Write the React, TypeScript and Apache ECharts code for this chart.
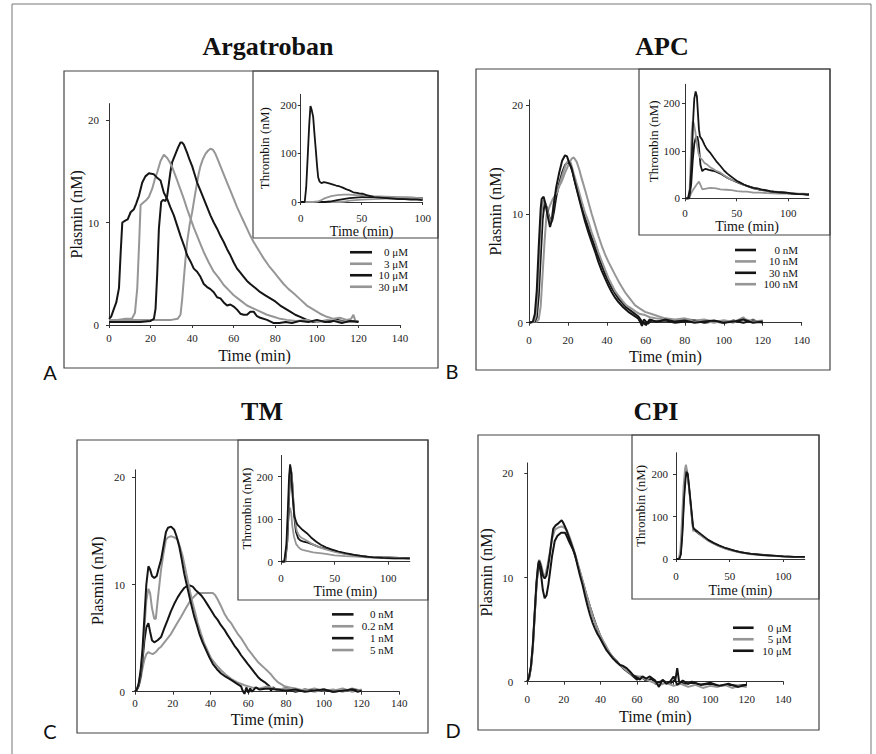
import React, { useEffect, useRef } from 'react';
import * as echarts from 'echarts';

// ---------------- DATA ----------------
const panelTitles = ['Argatroban', 'APC', 'TM', 'CPI'];
const panelLetters = ['A', 'B', 'C', 'D'];
const mainXTicks = [0, 20, 40, 60, 80, 100, 120, 140];
const mainYTicks = [0, 10, 20];
const insetXTicks = [0, 50, 100];
const insetYTicks = [0, 100, 200];
const mainXName = 'Time (min)';
const mainYName = 'Plasmin (nM)';
const insetXName = 'Time (min)';
const insetYName = 'Thrombin (nM)';

const argLabels = ['0 μM', '3 μM', '10 μM', '30 μM'];
const apcLabels = ['0 nM', '10 nM', '30 nM', '100 nM'];
const tmLabels = ['0 nM', '0.2 nM', '1 nM', '5 nM'];
const cpiLabels = ['0 μM', '5 μM', '10 μM'];

// Argatroban – plasmin
const argP0 = [[0,0.6],[1,0.8],[2.4,1.6],[3.5,2.2],[4.8,3.6],[5.6,7],[6.4,10.0],[8,10.2],[9,10.3],[10.4,11],[12,11.3],[13,11.8],[14.4,12.6],[16,13.9],[17.5,14.5],[19.2,14.8],[21.6,14.7],[23,14.4],[24.8,14.1],[26.4,12.9],[28,12.3],[29.5,11.5],[31.2,10.7],[32.8,9.7],[34.4,8.7],[36,7.8],[37.6,6.8],[39.2,6.2],[40.8,5.5],[42.4,5.2],[44,4.7],[45.6,4.0],[47.2,3.7],[48.8,3.5],[50.4,3.2],[52,2.7],[53.6,2.6],[55.2,2.2],[56.8,1.9],[58.4,2.0],[60,1.8],[61.6,1.5],[63.2,1.1],[64.8,1.0],[66.4,1.0],[68,1.3],[69.6,1.3],[71,0.9],[72.8,0.7],[76,0.5],[79,0.2],[82,0.2],[85,0.3],[88,0.2],[92,0.4],[96,0.3],[100,0.5],[104,0.3],[108,0.4],[112,0.2],[116,0.4],[120,0.3]];
const argP3 = [[0,0.5],[4,0.5],[8,0.6],[11,0.6],[12.5,1.2],[13.6,3.6],[14.5,8],[15.2,11.7],[16.8,12.0],[18,12.2],[19.2,12.5],[20.8,13.3],[22,14.2],[23.2,14.9],[24.8,16.0],[26.4,16.6],[28,16.3],[29.2,15.9],[30.4,15.4],[32.8,14.1],[34.4,13.2],[36,12.3],[37.6,11.3],[39.2,10.4],[40.8,9.5],[42.4,8.7],[44,7.9],[45.6,7.1],[48,6.1],[50.4,5.2],[52.8,4.6],[55.2,3.9],[57.6,3.4],[60,2.9],[63.2,2.4],[66.4,1.9],[69.6,1.6],[72.8,1.3],[76,1.0],[79.2,0.8],[82.4,0.6],[85.6,0.5],[90,0.4],[95,0.5],[100,0.3],[105,0.5],[110,0.4],[115,0.3],[120,0.4]];
const argP10 = [[0,0.3],[5,0.3],[10,0.3],[15,0.3],[20,0.4],[21.6,0.6],[22.4,1.6],[23.2,5],[24,9.4],[25.1,12.0],[26,12.2],[27.2,12.1],[28,12.6],[28.8,13.8],[29.6,15],[30.4,15.9],[32,16.7],[33.2,17.3],[34.4,17.8],[35.2,17.8],[36,17.6],[37.6,16.8],[38.8,16.1],[40,15.5],[41.2,14.7],[42.4,13.9],[44,13.1],[45.6,12.3],[47.2,11.5],[48.8,10.7],[50.4,10.0],[52,9.4],[53.6,8.7],[55.2,8.1],[56.8,7.4],[58.4,6.8],[60,6.1],[61.6,5.5],[63.2,5.1],[64.8,4.7],[66.4,4.3],[68,4.0],[70.4,3.6],[72.8,3.2],[75.2,2.9],[77.6,2.6],[80,2.3],[82.4,1.9],[84.8,1.6],[87.2,1.3],[89.6,1.0],[92,0.8],[95.2,0.5],[98.4,0.3],[102,0.4],[106,0.3],[110,0.5],[114,0.3],[118,0.4],[120,0.3]];
const argP30 = [[0,0.5],[5,0.5],[10,0.5],[15,0.5],[20,0.5],[25,0.5],[30,0.5],[33,0.6],[34.4,1.0],[35.2,2.5],[36,4.5],[36.8,6.4],[37.6,8.1],[38.8,9.8],[40,11.0],[41.2,12.5],[42.4,13.9],[43.2,14.8],[44,15.5],[45.2,16.2],[46.4,16.7],[47.6,17.0],[48.8,17.2],[50,17.1],[51.2,16.7],[52.4,16.1],[53.6,15.5],[55.2,14.7],[56.8,13.9],[58.4,13.1],[60,12.3],[61.6,11.5],[63.2,10.8],[64.8,10.1],[66.4,9.4],[68,8.7],[69.6,8.1],[72,7.3],[74.4,6.5],[76.8,5.8],[79.2,5.2],[81.6,4.6],[84,4.0],[86.4,3.5],[88.8,3.1],[92,2.5],[95.2,1.9],[98.4,1.5],[101.6,1.1],[104.8,0.8],[108,0.6],[111,0.7],[114.4,0.5],[116.5,0.6],[117.6,1.0],[118.5,0.4],[120,0.4]];
// Argatroban – thrombin
const argT0 = [[0,0],[3.3,0],[4.5,30],[6,107],[7,160],[8,198],[9,190],[10.2,176],[11.3,140],[12.4,107],[13.4,75],[14.3,51],[15.5,42],[17,39],[19,41],[21,40],[24,38],[26.6,36],[29,34],[32,32],[34,30],[37.6,26],[40,24],[43,20],[46,19],[48,18],[51,17],[54,14],[57,12],[60,10],[65,9],[70,8],[75,7],[80,6],[85,6],[90,5],[95,5],[100,4]];
const argT3 = [[0,0],[10,0],[14,1],[17,4],[20,8],[25,12],[30,14],[35,15],[40,15],[45,14],[50,14],[55,13],[60,12],[70,11],[80,10],[90,9],[100,8]];
const argT10 = [[0,0],[20,0],[24,1],[30,4],[35,6],[40,8],[45,9],[50,10],[60,10],[70,10],[80,9],[90,9],[100,8]];
const argT30 = [[0,0],[33,0],[36,1],[40,3],[45,4],[50,5],[60,6],[70,7],[80,7],[90,7],[100,6]];

// APC – plasmin
const apcP0 = [[0,0],[2,0.1],[3,0.8],[4,3],[5,7],[6,10.5],[6.5,11.4],[7.5,11.6],[8.5,10.9],[9.5,9.9],[10.8,8.8],[11.8,9.5],[12.8,11],[14,12.5],[15.5,13.8],[17,14.9],[18.5,15.4],[19.5,15.3],[20.5,14.8],[21.9,14.2],[23.5,13.0],[25.3,11.7],[27,10.5],[28.8,9.3],[30.5,8.3],[32.2,7.4],[34,6.5],[35.6,5.6],[37.3,4.8],[39,4.1],[40.8,3.4],[42.5,2.8],[44.2,2.3],[45.9,1.9],[48.5,1.4],[51,1.0],[53.5,0.7],[56,0.4],[57,0.1],[58,-0.3],[59,0.3],[61,-0.1],[63,0.2],[66,0.1],[70,0.3],[75,0.1],[80,0.2],[85,0.0],[90,0.1],[95,0.2],[100,0.0],[105,0.1],[110,0.3],[115,0.0],[120,0.1]];
const apcP10 = [[0,0],[2.5,0.1],[3.5,0.6],[4.5,3],[5.5,7],[6.5,10.3],[7.4,11.3],[8.4,11.0],[9.5,10.2],[10.5,9.5],[11.6,9.3],[12.5,10.8],[13.4,11.7],[14.5,12.0],[16,12.9],[17.5,13.8],[19,14.6],[20.2,14.9],[21.5,14.7],[23,13.7],[25.3,12.3],[27,11.2],[28.8,10.1],[30.5,9.3],[32,8.4],[34,7.4],[35.6,6.5],[37.3,5.7],[39,4.9],[40.8,4.1],[42.5,3.5],[44.2,2.9],[45.9,2.5],[48,2.0],[50,1.6],[52.7,1.3],[55,1.0],[57,0.8],[59.6,0.7],[62,0.5],[65,0.4],[70,0.3],[75,0.2],[80,0.3],[85,0.1],[90,0.2],[95,0.0],[100,0.2],[105,0.1],[110,0.4],[115,0.1],[120,0.2]];
const apcP30 = [[0,0],[3,0.1],[4,0.5],[5,2.5],[6,6],[7,9.5],[8,11.0],[9,10.7],[10,10.0],[11,9.4],[11.8,9.3],[12.8,10.2],[14,11.6],[15.5,12.8],[17,13.8],[18.5,14.5],[20,14.8],[21,14.6],[22.5,13.8],[24,12.7],[25.5,11.7],[27,10.7],[28.8,9.6],[30.5,8.7],[32.2,7.8],[34,6.9],[35.6,6.1],[37.3,5.3],[39,4.5],[40.8,3.8],[42.5,3.2],[44.2,2.7],[46,2.2],[48,1.8],[50,1.4],[53,1.0],[56,0.6],[58,0.1],[60,-0.2],[62,0.3],[65,0.1],[70,0.2],[75,0.0],[80,0.1],[85,0.2],[90,0.0],[95,0.1],[100,0.0],[105,0.2],[110,0.0],[115,0.2],[120,0.0]];
const apcP100 = [[0,0],[4,0.1],[5,0.3],[6,1.5],[7,4.5],[8,7.5],[9,9.9],[10,10.4],[10.8,10.8],[12,11.3],[13.4,11.7],[15,12.4],[16.8,13.0],[18.5,13.8],[20.2,14.5],[21.9,15.1],[23,15.2],[24.5,14.8],[25.8,14.1],[27,13.3],[28.8,12.2],[30.5,11.1],[32.2,10.0],[33.9,9.0],[35.6,8.0],[37.3,7.1],[39,6.3],[40.8,5.6],[42.5,5.0],[44.2,4.4],[46,3.8],[47.6,3.3],[49.3,2.8],[51,2.4],[52.7,2.0],[54.5,1.6],[57,1.3],[59.6,1.0],[63,0.8],[66.4,0.6],[70,0.4],[75,0.3],[80,0.4],[85,0.2],[90,0.3],[95,0.1],[100,0.2],[105,0.0],[108,0.3],[110,0.5],[112,0.1],[115,0.3],[118,0.0],[120,0.2]];
// APC – thrombin
const apcT0 = [[0,0],[3,0],[5,20],[6.5,80],[8,170],[9,210],[10.3,225],[11.5,215],[12.5,180],[13.5,145],[14.5,130],[16.7,123],[19,112],[21,104],[24.7,95],[28,85],[31,76],[34.3,68],[38,58],[41,52],[43.9,47],[47,42],[50,37],[53.5,33],[57,29],[60,26],[63,24],[66.3,22],[70,21],[75,18],[78,17],[82.4,15],[86,14],[90,13],[94,13],[98.4,12],[102,11],[106,10],[110,9],[114,9],[117.6,8],[120,8]];
const apcT10 = [[0,0],[3,0],[4.5,20],[5.5,80],[6.5,140],[7.5,162],[8.5,158],[10,140],[11.5,115],[13,95],[14.5,86],[16.7,81],[19,74],[21.5,71],[24,66],[27,62],[30,58],[34.3,54],[38,48],[42,42],[46,38],[50.3,35],[55,30],[60,26],[66.3,22],[72,19],[76,17],[82.4,15],[88,14],[93,13],[98.4,12],[104,11],[110,10],[115,10],[120,9]];
const apcT30 = [[0,0],[4,0],[6,30],[7.5,80],[9,115],[10.5,128],[11.9,130],[13,118],[14,95],[15,70],[16.7,57],[18,60],[20,62],[23,60],[27,58],[30,56],[34.3,52],[38,47],[42,42],[46,38],[50.3,34],[55,30],[60,26],[66.3,21],[72,18],[78,16],[82.4,14],[88,13],[93,12],[98.4,11],[104,10],[110,9],[115,9],[120,8]];
const apcT100 = [[0,0],[4,0],[5.4,8],[7,15],[8.5,20],[10.3,26],[12,31],[13.5,35],[15,28],[16.7,19],[19,20],[21.5,21],[25,22],[30,21],[34.3,19],[40,18],[45,17],[50.3,15],[56,14],[60,14],[66.3,12],[72,12],[80,11],[90,10],[98.4,10],[105,9],[110,9],[117.6,8],[120,8]];

// TM – plasmin
const tmP0 = [[0,0],[1,0.2],[2,0.8],[3,2],[4,4],[5,7],[6,10],[7.1,11.7],[8,11.4],[9,10.8],[10.2,10.6],[11.5,10.8],[12.5,11.5],[13.8,12.3],[15,13.5],[16.4,14.9],[17.5,15.3],[19.1,15.4],[20.8,15.1],[22,14.5],[23.5,13.5],[24.8,12.3],[26.1,11.0],[27.5,9.9],[28.8,8.9],[30,8.0],[31.4,7.0],[32.8,6.2],[34.1,5.4],[35.8,4.6],[37.6,3.9],[39.4,3.2],[41.2,2.6],[43.4,2.1],[45.6,1.7],[48,1.4],[50.9,1.1],[53.5,0.8],[56.2,0.5],[57,0.1],[58,-0.2],[59,0.4],[60,-0.1],[61,0.3],[62,0.0],[64,0.4],[66,0.2],[70,0.3],[75,0.2],[80,0.1],[85,0.2],[90,0.0],[95,0.1],[100,0.2],[105,0.0],[110,0.1],[115,0.2],[118,0.0],[120,0.1]];
const tmP02 = [[0,0],[1,0.2],[2,0.7],[3,1.8],[4,3.5],[5,6],[6,8.5],[7.1,9.6],[8,9.2],[9,7.8],[10.2,6.8],[11,6.8],[12,8.5],[13.8,11.4],[15,12.8],[16.4,14.2],[17.5,14.4],[19.1,14.5],[20.8,14.4],[22.6,14.2],[24,13.4],[25.3,12.6],[26.6,11.5],[27.9,10.4],[29.2,9.3],[30.6,8.2],[32,7.3],[33.2,6.4],[35,5.4],[36.7,4.5],[38.5,3.8],[40.3,3.1],[43,2.5],[45.6,2.0],[48,1.6],[50.9,1.2],[54,0.9],[58,0.6],[62,0.4],[66,0.3],[70,0.5],[75,0.2],[80,0.3],[85,0.1],[90,0.2],[95,0.0],[100,0.2],[105,0.1],[110,0.3],[115,0.0],[120,0.2]];
const tmP1 = [[0,0],[1,0.2],[2,0.6],[3,1.5],[4,3],[5,4.8],[6,6],[7.1,6.4],[8,5.6],[9,4.8],[10.2,4.6],[12,4.8],[13.8,5.1],[15.5,5.9],[17.3,6.7],[19,7.5],[20.8,8.2],[22.6,8.8],[24.4,9.3],[26.2,9.7],[27.9,9.9],[29.2,9.9],[30.6,9.8],[32,9.5],[33.2,9.3],[35,9.0],[36.7,8.6],[38.5,8.1],[40.3,7.6],[42,7.1],[43.8,6.7],[45.5,6.2],[47.3,5.8],[49,5.3],[50.9,4.8],[52.6,4.3],[54.4,3.9],[56.2,3.4],[58,3.0],[59.7,2.6],[61.5,2.2],[63.2,1.8],[65,1.4],[66.8,1.1],[68.6,0.9],[70,0.7],[71.2,0.5],[72,0.1],[73,0.4],[75,0.2],[80,0.3],[85,0.0],[90,0.2],[95,0.1],[100,0.2],[105,0.0],[110,0.1],[115,0.2],[120,0.1]];
const tmP5 = [[0,0],[1,0.2],[2,0.5],[3,1.2],[4,2.2],[5,3.0],[6,3.5],[7.1,3.7],[8,3.6],[9.4,3.5],[11,3.7],[12.4,4.0],[13.8,4.2],[16,4.7],[19.1,5.4],[21.7,6.2],[24.4,7.0],[27,7.8],[29.7,8.6],[31.5,8.9],[33.2,9.2],[35.8,9.2],[38.5,9.2],[41.2,9.2],[42.5,9.0],[43.8,8.6],[45.5,8.0],[47.3,7.3],[49,6.8],[50.9,6.4],[52.6,5.9],[54.4,5.4],[56.2,5.0],[58,4.5],[59.7,4.0],[61.5,3.6],[63.2,3.2],[65,2.8],[66.8,2.5],[68.6,2.2],[70.4,1.9],[72.1,1.6],[73.9,1.2],[75.6,0.9],[77.4,0.7],[79.2,0.5],[82,0.4],[85,0.3],[90,0.1],[95,0.3],[100,0.1],[105,0.2],[110,0.0],[115,0.3],[120,0.1]];
// TM – thrombin
const tmT0 = [[0,0],[3,0],[5,40],[6.5,130],[7.5,200],[8.5,229],[9.5,210],[10.5,165],[12.4,107],[14,95],[15.3,87],[18,80],[20,75],[24.1,67],[28,57],[32.9,47],[37,40],[41.8,34],[47,29],[53.5,24],[60,20],[68.2,16],[76,13],[85.9,10],[95,9],[105,8],[112,8],[120,8]];
const tmT02 = [[0,0],[3.5,0],[5.5,40],[7,140],[8.2,200],[9.2,222],[10.2,200],[11.5,140],[13,100],[14.5,75],[16,65],[18,58],[20,55],[25,48],[30,40],[35,35],[40,30],[50,23],[60,18],[70,14],[80,12],[90,11],[100,10],[110,9],[120,8]];
const tmT1 = [[0,0],[4,0],[6,50],[7.5,150],[8.7,205],[9.7,210],[10.7,180],[12,120],[13,90],[14,70],[16,55],[18,50],[21,47],[25,45],[30,40],[35,35],[42,30],[50,25],[60,19],[70,15],[80,12],[90,11],[100,10],[110,9],[120,8]];
const tmT5 = [[0,0],[3,0],[5,30],[6.5,90],[7.8,120],[8.5,127],[9.5,115],[10.5,85],[12,60],[14,42],[16,35],[18,30],[20,28],[25,25],[30,22],[40,19],[50,15],[60,13],[70,12],[80,10],[90,9],[100,8],[110,8],[120,7]];

// CPI – plasmin
const cpiP0 = [[0,0],[1,0.5],[2,1.5],[3,3.5],[4,6.5],[5,9.5],[6,11.3],[6.5,11.6],[7.5,11.0],[8.5,10.2],[9.5,9.9],[10.5,10.2],[11.5,11.2],[12.4,12.3],[13.3,13.6],[14.2,14.7],[15.5,15.0],[17,15.2],[18.8,15.5],[19.5,15.3],[20.6,14.9],[21.9,14.3],[23.3,13.6],[24.7,12.9],[26.1,12.2],[27.4,11.2],[28.8,10.2],[30.2,9.3],[31.5,8.3],[32.9,7.3],[34.3,6.4],[35.6,5.7],[37,5.1],[38.3,4.6],[39.7,4.2],[41.5,3.6],[43.4,3.0],[45.2,2.6],[47,2.2],[48.8,1.9],[50.7,1.6],[52.5,1.5],[54.3,1.3],[56,1.0],[58,0.6],[60,0.4],[61.6,0.2],[63,0.5],[65,0.3],[67,0.5],[70,0.1],[72,-0.5],[74,0.2],[76,-0.2],[78,0.0],[80,0.5],[82,-0.3],[85,0.1],[88,-0.2],[90,0.0],[95,-0.3],[100,-0.1],[105,-0.4],[110,-0.2],[115,-0.5],[120,-0.3]];
const cpiP5 = [[0,0],[1,0.4],[2,1.3],[3,3.2],[4,6.2],[5,9.3],[6,11.4],[6.5,11.7],[7.5,11.3],[8.5,10.5],[9.1,10.2],[10,10.3],[11,11.1],[12.4,12.5],[13.7,13.8],[15.1,14.6],[17,14.8],[18.8,14.9],[20,14.8],[21.5,14.6],[23.3,13.8],[25.2,12.8],[27,11.7],[28.8,10.6],[30.6,9.5],[32.4,8.3],[34.3,7.2],[36.1,6.1],[37.9,5.3],[39.7,4.5],[41.5,3.9],[43.4,3.3],[45.2,2.7],[47,2.3],[48.8,1.9],[50.7,1.6],[54,1.1],[58,0.6],[61,0.5],[65,0.2],[68,0.0],[72.5,-0.3],[76,-0.1],[80,-0.4],[84,-0.2],[88,-0.5],[92,-0.3],[96,-0.6],[100,-0.4],[104,-0.5],[108,-0.3],[112,-0.6],[116,-0.4],[120,-0.5]];
const cpiP10 = [[0,0],[1,0.4],[2,1.4],[3,3.3],[4,6.3],[5,9.2],[6,11.1],[6.5,11.3],[7.5,10.3],[8.5,8.8],[9.5,8.0],[10.5,8.3],[11.5,9.3],[12.4,10.5],[13.5,12.0],[15,13.5],[16.5,14.0],[18.5,14.3],[19.5,14.3],[20.6,14.3],[21.5,14.0],[22.5,13.6],[23.5,13.2],[25.2,12.6],[27,11.6],[28.8,10.5],[30.6,9.4],[32.4,8.3],[34.3,7.2],[36.1,6.2],[37.9,5.3],[39.7,4.5],[41.5,3.8],[43.4,3.2],[45.2,2.7],[47,2.3],[48.8,2.0],[50.7,1.6],[53,1.2],[56,0.8],[58,0.5],[60,0.2],[62,0.5],[65,0.1],[68,0.3],[70,-0.2],[74,0.1],[78,-0.2],[81,0.2],[82,1.3],[83,0.0],[86,-0.2],[90,-0.1],[95,-0.3],[100,-0.2],[105,-0.4],[110,-0.3],[115,-0.4],[120,-0.3]];
// CPI – thrombin
const cpiT0 = [[0,0],[3,0],[4.5,10],[6,60],[7.5,140],[9,190],[10,205],[11,200],[12,175],[13,150],[14,125],[15,100],[16,75],[17,70],[20,65],[25,55],[30,45],[35,38],[40,32],[45,27],[50,23],[55,19],[60,16],[65,14],[70,12],[75,11],[80,9],[90,8],[100,6],[110,5],[120,5]];
const cpiT5 = [[0,0],[2.5,0],[4,20],[5.5,90],[7,170],[8.5,215],[9.3,222],[10.5,205],[12,170],[13.5,130],[15,95],[16,65],[17,72],[20,63],[25,52],[30,43],[35,36],[40,30],[45,25],[50,21],[55,18],[60,15],[65,13],[70,11],[80,9],[90,7],[100,6],[110,5],[120,4]];
const cpiT10 = [[0,0],[3,0],[4.5,15],[6,75],[7.5,155],[8.8,200],[9.8,210],[11,195],[12.5,160],[14,120],[15,90],[16,70],[17,68],[20,62],[25,53],[30,44],[35,37],[40,31],[45,26],[50,22],[55,19],[60,16],[70,12],[80,10],[90,8],[100,6],[110,5],[120,5]];

// ---------------- STYLE / LAYOUT ----------------
const SERIF = 'Liberation Serif';
const SANS = 'Lato';
const BLACK = '#151515';
const GRAY = '#969696';
const AXIS = '#333';

const layouts = [
  {
    main: { left: 109, top: 103.6, width: 291, height: 221.4, yMax: 21.6, yLM: 10, xLM: 7.5, yNG: 23, xNG: 22 },
    inset: { left: 300.7, top: 94.3, width: 122, height: 107.7, yMax: 222, xMax: 100, yLM: 4, xLM: 10.5, yNG: 30, xNG: 22.7 },
    box: [64, 71, 374, 297], ibox: [253, 71, 185, 167], title: [268, 46], letter: [50, 372],
    legend: { left: 350, top: 246.5, tw: 31, lh: 11.5, iw: 22 },
  },
  {
    main: { left: 529, top: 99.9, width: 272.7, height: 222.8, yMax: 20.5, yLM: 6, xLM: 11.8, yNG: 26, xNG: 26 },
    inset: { left: 685, top: 84.3, width: 124, height: 114, yMax: 240, xMax: 120, yLM: 5, xLM: 9.2, yNG: 25.5, xNG: 21.4 },
    box: [476, 69, 354, 301], ibox: [639, 69, 191, 166], title: [662, 46], letter: [452, 371],
    legend: { left: 735, top: 244.3, tw: 37, lh: 11.4, iw: 21 },
  },
  {
    main: { left: 135, top: 469.8, width: 264.3, height: 221.9, yMax: 20.7, yLM: 10, xLM: 5.8, yNG: 30, xNG: 20 },
    inset: { left: 281, top: 455.45, width: 128.8, height: 106.25, yMax: 250, xMax: 120, yLM: 8, xLM: 10.8, yNG: 26, xNG: 23 },
    box: [77, 440, 351, 293], ibox: [238, 440, 190, 160], title: [262, 411], letter: [50, 731],
    legend: { left: 332, top: 608.4, tw: 35, lh: 11.9, iw: 21.5 },
  },
  {
    main: { left: 527.3, top: 462.9, width: 256, height: 218.8, yMax: 21, yLM: 14, xLM: 12, yNG: 32.6, xNG: 27 },
    inset: { left: 676, top: 452.75, width: 128.8, height: 106.25, yMax: 250, xMax: 120, yLM: 8, xLM: 11.2, yNG: 29.5, xNG: 24.7 },
    box: [478, 435, 341, 295], ibox: [632, 435, 187, 164], title: [656, 411], letter: [453, 730],
    legend: { left: 733, top: 622, tw: 33, lh: 11.5, iw: 20.6 },
  },
];

const panels = [
  { labels: argLabels, main: [argP0, argP3, argP10, argP30], inset: [argT0, argT3, argT10, argT30] },
  { labels: apcLabels, main: [apcP0, apcP10, apcP30, apcP100], inset: [apcT0, apcT10, apcT30, apcT100] },
  { labels: tmLabels, main: [tmP0, tmP02, tmP1, tmP5], inset: [tmT0, tmT02, tmT1, tmT5] },
  { labels: cpiLabels, main: [cpiP0, cpiP5, cpiP10], inset: [cpiT0, cpiT5, cpiT10] },
];

function buildOption() {
  const grid: any[] = [];
  const xAxis: any[] = [];
  const yAxis: any[] = [];
  const series: any[] = [];
  const legend: any[] = [];
  const elements: any[] = [];

  elements.push({
    type: 'polyline', silent: true,
    shape: { points: [[12, 760], [12, 4], [871, 4], [871, 760]] },
    style: { stroke: '#777', lineWidth: 1, fill: null },
  });

  panels.forEach((p, pi) => {
    const L = layouts[pi];
    const title = panelTitles[pi];
    const gi = pi * 2;

    [L.main, L.inset].forEach((g: any, k) => {
      const isInset = k === 1;
      grid.push({ left: g.left, top: g.top, width: g.width, height: g.height, containLabel: false });
      const xt = isInset ? insetXTicks : mainXTicks;
      const yt = isInset ? insetYTicks : mainYTicks;
      xAxis.push({
        type: 'value', gridIndex: gi + k, min: 0, max: isInset ? g.xMax : 140,
        axisLine: { show: true, onZero: false, lineStyle: { color: AXIS, width: 1 } },
        axisTick: { show: true, length: 3, customValues: xt, lineStyle: { color: AXIS } },
        axisLabel: { customValues: xt, fontFamily: SERIF, fontSize: 11, color: '#222', margin: g.xLM },
        splitLine: { show: false },
        name: isInset ? insetXName : mainXName, nameLocation: 'middle', nameGap: g.xNG,
        nameTextStyle: { fontFamily: SERIF, fontWeight: 'normal', fontSize: isInset ? 14 : 16, color: '#111' },
      });
      yAxis.push({
        type: 'value', gridIndex: gi + k, min: 0, max: g.yMax,
        axisLine: { show: true, lineStyle: { color: AXIS, width: 1 } },
        axisTick: { show: true, length: 3, customValues: yt, lineStyle: { color: AXIS } },
        axisLabel: { customValues: yt, fontFamily: SERIF, fontSize: 11, color: '#222', margin: g.yLM },
        splitLine: { show: false },
        name: isInset ? insetYName : mainYName, nameLocation: 'middle', nameGap: g.yNG,
        nameTextStyle: { fontFamily: SERIF, fontWeight: 'normal', fontSize: isInset ? 13 : 16, color: '#111' },
      });
    });

    const names = p.labels.map((l) => `${title}: ${l}`);
    p.main.forEach((d, si) => {
      const color = si % 2 === 0 ? BLACK : GRAY;
      series.push({
        type: 'line', name: names[si], xAxisIndex: gi, yAxisIndex: gi, data: d,
        symbol: 'none', showSymbol: false, clip: false, silent: true,
        lineStyle: { color, width: 2 }, itemStyle: { color }, z: 3 + (p.main.length - si),
      });
    });
    p.inset.forEach((d, si) => {
      const color = si % 2 === 0 ? BLACK : GRAY;
      series.push({
        type: 'line', name: names[si], xAxisIndex: gi + 1, yAxisIndex: gi + 1, data: d,
        symbol: 'none', showSymbol: false, clip: false, silent: true,
        lineStyle: { color, width: 1.8 }, itemStyle: { color }, z: 3 + (p.inset.length - si),
      });
    });

    legend.push({
      data: names, left: L.legend.left, top: L.legend.top, orient: 'vertical',
      icon: 'rect', itemWidth: L.legend.iw, itemHeight: 2.6, itemGap: 0, padding: 0, selectedMode: false,
      formatter: (n: string) => `{r|${n.split(': ')[1]}}`,
      textStyle: {
        fontFamily: SERIF, fontSize: 11, color: '#111', lineHeight: L.legend.lh,
        rich: { r: { width: L.legend.tw, align: 'right', fontFamily: SERIF, fontSize: 11, color: '#111', lineHeight: L.legend.lh } },
      },
    });

    const [bx, by, bw, bh] = L.box;
    elements.push({ type: 'rect', silent: true, shape: { x: bx, y: by, width: bw, height: bh }, style: { fill: null, stroke: '#444', lineWidth: 1.2 } });
    const [ix, iy, iw, ih] = L.ibox;
    elements.push({ type: 'rect', silent: true, shape: { x: ix, y: iy, width: iw, height: ih }, style: { fill: null, stroke: '#444', lineWidth: 1.2 } });
    elements.push({
      type: 'text', silent: true, x: L.title[0], y: L.title[1],
      style: { text: title, fontFamily: SERIF, fontSize: 26, fontWeight: 'bold', fill: '#111', align: 'center', verticalAlign: 'middle' },
    });
    elements.push({
      type: 'text', silent: true, x: L.letter[0], y: L.letter[1],
      style: { text: panelLetters[pi], fontFamily: SANS, fontSize: 20, fill: '#111', align: 'center', verticalAlign: 'middle' },
    });
  });

  return {
    animation: false,
    backgroundColor: '#fff',
    textStyle: { fontFamily: SERIF },
    grid, xAxis, yAxis, series, legend,
    graphic: { elements },
  };
}

export default function App() {
  const ref = useRef<HTMLDivElement>(null);
  useEffect(() => {
    if (!ref.current) return;
    const chart = echarts.init(ref.current, null, { renderer: 'svg' });
    chart.setOption(buildOption() as any);
    return () => chart.dispose();
  }, []);
  return (
    <div
      ref={ref}
      style={{ position: 'absolute', left: 0, top: 0, width: 876, height: 754, background: '#fff' }}
    />
  );
}
